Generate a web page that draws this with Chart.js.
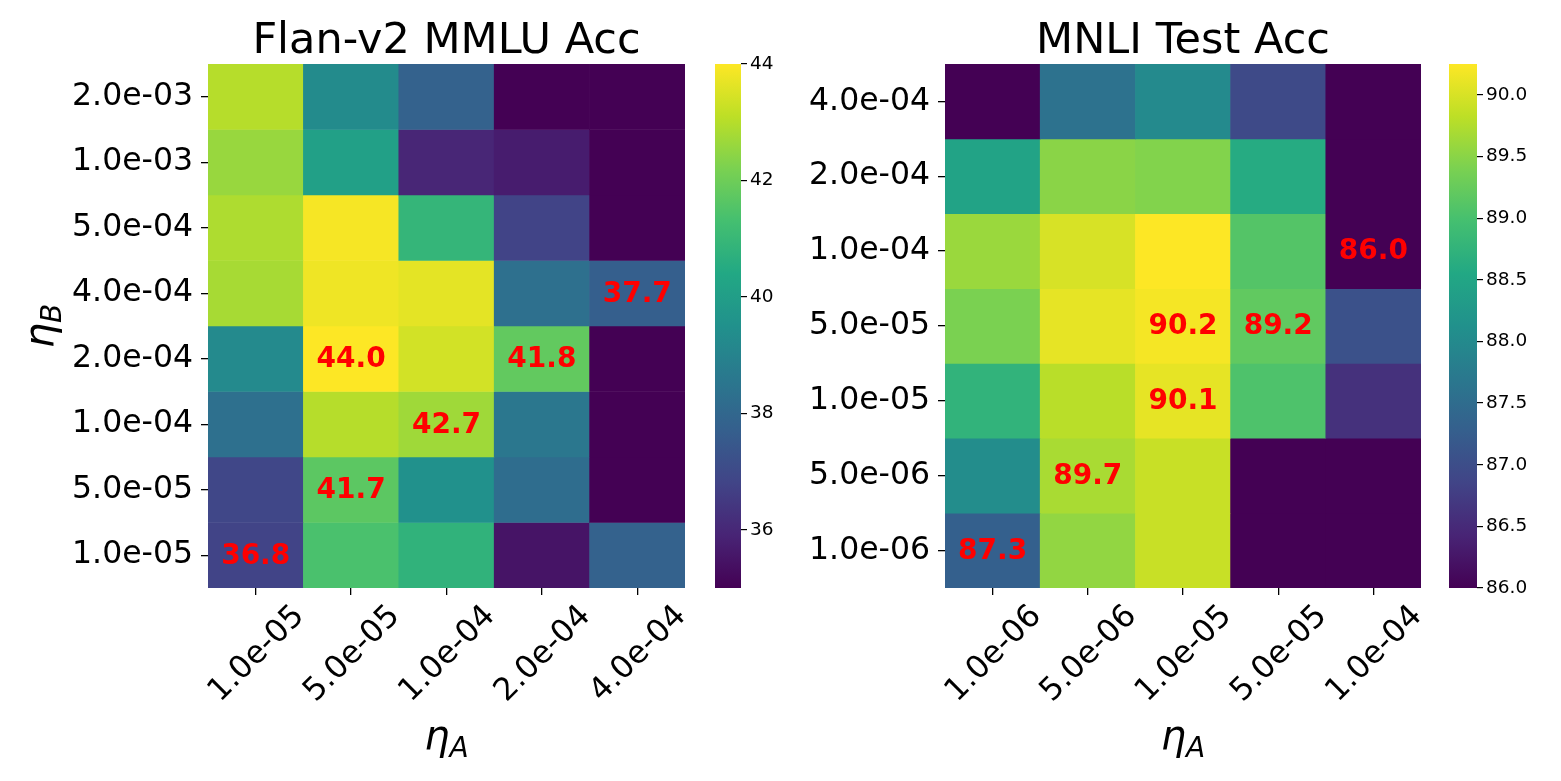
<!DOCTYPE html>
<html>
<head>
<meta charset="utf-8">
<title>LoRA+ learning rate heatmaps</title>
<script src="https://cdn.jsdelivr.net/npm/chart.js@4.4.1/dist/chart.umd.min.js"></script>
<style>
    html, body { margin: 0; padding: 0; background: #ffffff; }
    #page { position: relative; width: 1561px; height: 781px; overflow: hidden; }
    .box { position: absolute; top: 0; height: 781px; }
</style>
</head>
<body>
<div id="page">
    <div class="box" style="left:0;width:705px"><canvas id="heat-mmlu"></canvas></div>
    <div class="box" style="left:705px;width:85px"><canvas id="bar-mmlu"></canvas></div>
    <div class="box" style="left:790px;width:650px"><canvas id="heat-mnli"></canvas></div>
    <div class="box" style="left:1440px;width:121px"><canvas id="bar-mnli"></canvas></div>
</div>
<script>
// rows are listed top to bottom, as in the figure
const MMLU_ROWS = ['2.0e-03', '1.0e-03', '5.0e-04', '4.0e-04', '2.0e-04', '1.0e-04', '5.0e-05', '1.0e-05'];
const MMLU_COLS = ['1.0e-05', '5.0e-05', '1.0e-04', '2.0e-04', '4.0e-04'];
const MMLU_ACC = [
    [43.0, 39.3, 37.8, 35.0, 35.0],
    [42.6, 40.1, 35.95, 35.7, 35.0],
    [42.9, 43.9, 40.9, 36.8, 35.0],
    [42.8, 43.8, 43.65, 38.3, 37.7],
    [39.25, 44.0, 43.4, 41.8, 35.0],
    [38.3, 43.0, 42.7, 38.55, 35.0],
    [36.9, 41.7, 39.5, 38.2, 35.0],
    [36.8, 41.4, 40.8, 35.5, 37.8],
];
const MMLU_MARKS = [[7, 0], [6, 1], [5, 2], [4, 1], [4, 3], [3, 4]];
const MMLU_TICKS = [36, 38, 40, 42, 44];

const MNLI_ROWS = ['4.0e-04', '2.0e-04', '1.0e-04', '5.0e-05', '1.0e-05', '5.0e-06', '1.0e-06'];
const MNLI_COLS = ['1.0e-06', '5.0e-06', '1.0e-05', '5.0e-05', '1.0e-04'];
const MNLI_ACC = [
    [86.0, 87.6, 88.0, 86.95, 86.0],
    [88.45, 89.5, 89.45, 88.6, 86.0],
    [89.6, 90.0, 90.25, 89.1, 86.0],
    [89.4, 90.1, 90.2, 89.2, 87.05],
    [88.75, 89.8, 90.1, 89.05, 86.6],
    [88.05, 89.7, 89.9, 86.0, 86.0],
    [87.3, 89.55, 89.9, 86.0, 86.0],
];
const MNLI_MARKS = [[2, 4], [3, 2], [3, 3], [4, 2], [5, 1], [6, 0]];
const MNLI_TICKS = [86.0, 86.5, 87.0, 87.5, 88.0, 88.5, 89.0, 89.5, 90.0];

const VIRIDIS = ['#440154', '#482475', '#414487', '#355f8d', '#2a788e', '#21918c',
    '#22a884', '#44bf70', '#7ad151', '#bddf26', '#fde725'];

const FONT = '"DejaVu Sans", "Liberation Sans", sans-serif';
const TOP = 64;
const BOTTOM = 588;
const H = 781;

Chart.defaults.font.family = FONT;
Chart.defaults.color = '#000000';

function hexToRgb(hex) {
    const n = parseInt(hex.slice(1), 16);
    return [(n >> 16) & 255, (n >> 8) & 255, n & 255];
}

function viridis(t) {
    const k = Math.min(1, Math.max(0, t)) * (VIRIDIS.length - 1);
    const i = Math.min(VIRIDIS.length - 2, Math.floor(k));
    const f = k - i;
    const a = hexToRgb(VIRIDIS[i]);
    const b = hexToRgb(VIRIDIS[i + 1]);
    const c = a.map((v, j) => Math.round(v + (b[j] - v) * f));
    return `rgb(${c[0]}, ${c[1]}, ${c[2]})`;
}

function drawEta(ctx, x, y, sub, vertical) {
    ctx.save();
    ctx.translate(x, y);
    if (vertical) {
        ctx.rotate(-Math.PI / 2);
    }
    ctx.fillStyle = '#000000';
    ctx.textBaseline = 'alphabetic';
    ctx.font = `italic 40px ${FONT}`;
    const w1 = ctx.measureText('η').width;
    ctx.font = `italic 28px ${FONT}`;
    const w2 = ctx.measureText(sub).width;
    const start = -(w1 + w2) / 2;
    ctx.font = `italic 40px ${FONT}`;
    ctx.textAlign = 'left';
    ctx.fillText('η', start, 0);
    ctx.font = `italic 28px ${FONT}`;
    ctx.fillText(sub, start + w1, 8);
    ctx.restore();
}

const panelText = {
    id: 'panelText',
    afterDatasetsDraw(chart, args, opts) {
        const { ctx, scales } = chart;
        const n = opts.rows.length;
        ctx.save();
        ctx.fillStyle = '#ff0000';
        ctx.font = `bold 28px ${FONT}`;
        ctx.textAlign = 'center';
        ctx.textBaseline = 'middle';
        opts.marks.forEach(([r, c]) => {
            const x = scales.x.getPixelForValue(c);
            const y = scales.y.getPixelForValue(n - 1 - r + 0.5);
            ctx.fillText(opts.values[r][c].toFixed(1), x, y + 1);
        });
        ctx.restore();
    },
    afterDraw(chart, args, opts) {
        const { ctx, chartArea } = chart;
        const cx = (chartArea.left + chartArea.right) / 2;
        ctx.save();
        ctx.fillStyle = '#000000';
        ctx.font = `43px ${FONT}`;
        ctx.textAlign = 'center';
        ctx.textBaseline = 'alphabetic';
        ctx.fillText(opts.title, cx, 53);
        ctx.restore();
        drawEta(ctx, cx, 749, 'A', false);
        if (opts.yLabel) {
            drawEta(ctx, 53, (chartArea.top + chartArea.bottom) / 2, 'B', true);
        }
    },
};

function createHeatmap(canvas, cfg) {
    const n = cfg.rows.length;
    const datasets = cfg.rows.map((label, i) => ({
        label,
        data: cfg.cols.map(() => [n - 1 - i, n - i]),
        backgroundColor: cfg.values[i].map((v) => viridis((v - cfg.vmin) / (cfg.vmax - cfg.vmin))),
        borderWidth: 0,
        grouped: false,
        barPercentage: 1,
        categoryPercentage: 1,
    }));

    return new Chart(canvas, {
        type: 'bar',
        data: { labels: cfg.cols, datasets },
        options: {
            responsive: true,
            maintainAspectRatio: false,
            animation: false,
            layout: { padding: { top: TOP, right: cfg.padRight, left: 0, bottom: 0 } },
            plugins: {
                legend: { display: false },
                tooltip: { enabled: false },
                panelText: {
                    title: cfg.title,
                    rows: cfg.rows,
                    values: cfg.values,
                    marks: cfg.marks,
                    yLabel: cfg.yLabel,
                },
            },
            scales: {
                x: {
                    type: 'category',
                    offset: true,
                    border: { display: false },
                    grid: { offset: false, drawOnChartArea: false, tickLength: 7, color: '#000000', lineWidth: 1.3 },
                    ticks: {
                        autoSkip: false,
                        minRotation: 45,
                        maxRotation: 45,
                        labelOffset: 44,
                        padding: 3,
                        color: '#000000',
                        font: { size: 31.5 },
                    },
                    afterFit: (axis) => { axis.height = H - BOTTOM; },
                },
                y: {
                    type: 'linear',
                    min: 0,
                    max: n,
                    border: { display: false },
                    grid: { drawOnChartArea: false, tickLength: 7, color: '#000000', lineWidth: 1.3 },
                    afterBuildTicks: (axis) => {
                        axis.ticks = cfg.rows.map((_, i) => ({ value: n - 1 - i + 0.5 }));
                    },
                    ticks: {
                        autoSkip: false,
                        padding: 8,
                        color: '#000000',
                        font: { size: 31.5 },
                        callback: (value) => cfg.rows[n - 1 - Math.floor(value)],
                    },
                    afterFit: (axis) => { axis.width = cfg.axisWidth; },
                },
            },
        },
        plugins: [panelText],
    });
}

function createColorbar(canvas, cfg) {
    return new Chart(canvas, {
        type: 'bar',
        data: {
            labels: [''],
            datasets: [{
                data: [[cfg.vmin, cfg.vmax]],
                backgroundColor: (context) => {
                    const area = context.chart.chartArea;
                    if (!area) {
                        return VIRIDIS[0];
                    }
                    const g = context.chart.ctx.createLinearGradient(0, area.bottom, 0, area.top);
                    VIRIDIS.forEach((c, i) => g.addColorStop(i / (VIRIDIS.length - 1), c));
                    return g;
                },
                borderWidth: 0,
                barPercentage: 1,
                categoryPercentage: 1,
            }],
        },
        options: {
            responsive: true,
            maintainAspectRatio: false,
            animation: false,
            layout: { padding: { top: TOP, bottom: H - BOTTOM, left: cfg.padLeft, right: 0 } },
            plugins: { legend: { display: false }, tooltip: { enabled: false } },
            scales: {
                x: { display: false },
                y: {
                    position: 'right',
                    min: cfg.vmin,
                    max: cfg.vmax,
                    border: { display: false },
                    grid: { drawOnChartArea: false, tickLength: 6, color: '#000000', lineWidth: 1.2 },
                    afterBuildTicks: (axis) => {
                        axis.ticks = cfg.ticks.map((value) => ({ value }));
                    },
                    ticks: {
                        padding: 3,
                        color: '#000000',
                        font: { size: 18.5 },
                        callback: (value) => value.toFixed(cfg.decimals),
                    },
                    afterFit: (axis) => { axis.width = cfg.axisWidth; },
                },
            },
        },
    });
}

createHeatmap(document.getElementById('heat-mmlu'), {
    title: 'Flan-v2 MMLU Acc',
    rows: MMLU_ROWS,
    cols: MMLU_COLS,
    values: MMLU_ACC,
    marks: MMLU_MARKS,
    vmin: 35,
    vmax: 44,
    axisWidth: 208,
    padRight: 20,
    yLabel: true,
});
createColorbar(document.getElementById('bar-mmlu'), {
    vmin: 35, vmax: 44, ticks: MMLU_TICKS, decimals: 0, padLeft: 10, axisWidth: 49,
});

createHeatmap(document.getElementById('heat-mnli'), {
    title: 'MNLI Test Acc',
    rows: MNLI_ROWS,
    cols: MNLI_COLS,
    values: MNLI_ACC,
    marks: MNLI_MARKS,
    vmin: 86,
    vmax: 90.25,
    axisWidth: 155,
    padRight: 19,
    yLabel: false,
});
createColorbar(document.getElementById('bar-mnli'), {
    vmin: 86, vmax: 90.25, ticks: MNLI_TICKS, decimals: 1, padLeft: 9, axisWidth: 84,
});
</script>
</body>
</html>
